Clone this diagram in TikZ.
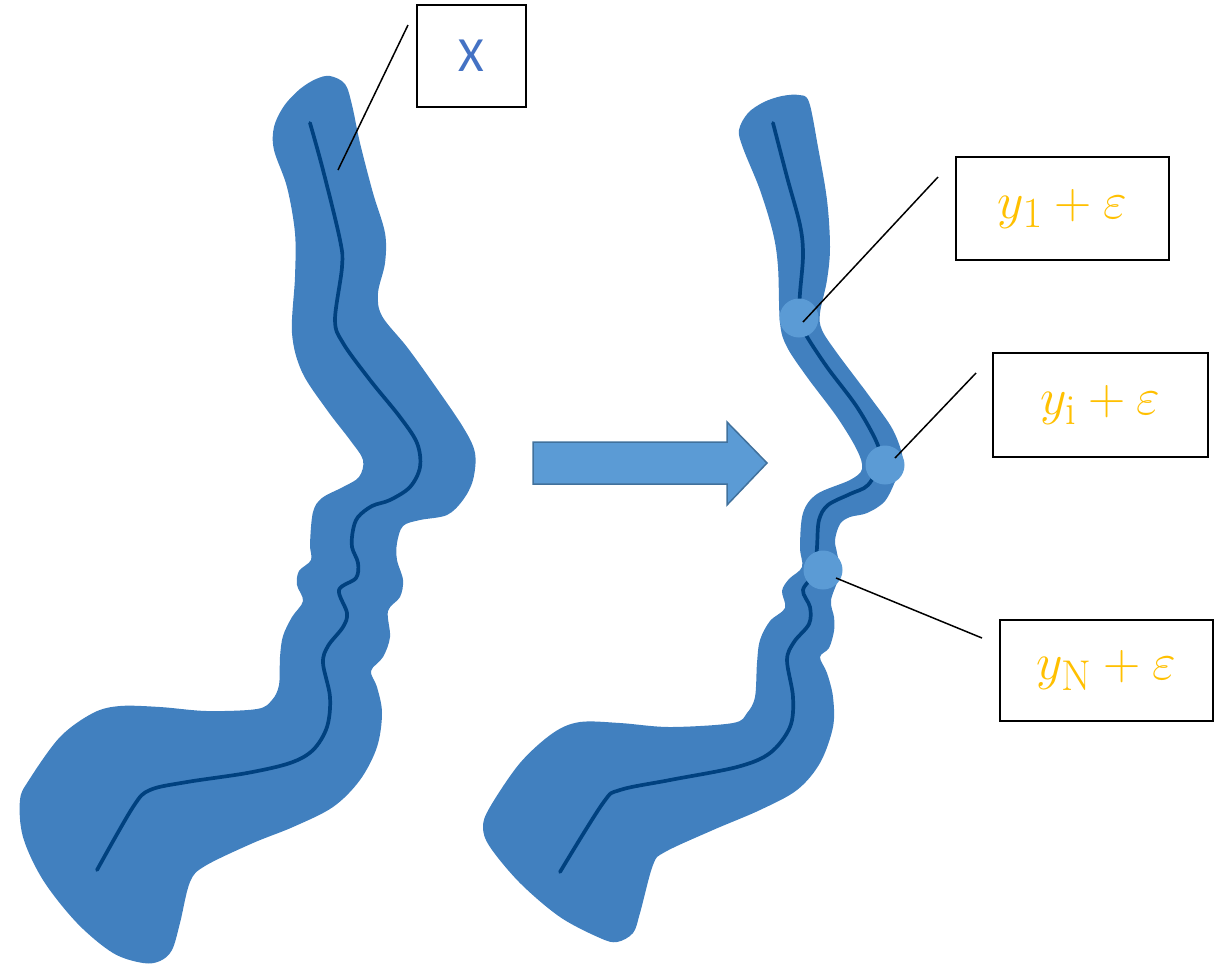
\documentclass[tikz,border=0pt]{standalone}
\usepackage{graphicx}
\usepackage{fontspec}
\newfontfamily\labelfont{Carlito}
\newcommand{\biglabel}[1]{\scalebox{1.18}{$#1$}}
\begin{document}
\definecolor{bandblue}{HTML}{4180BF}
\definecolor{coreblue}{HTML}{00417F}
\definecolor{dotblue}{HTML}{5B9BD5}
\definecolor{arrowedge}{HTML}{41719C}
\definecolor{labelgold}{HTML}{FFC000}
\definecolor{labelblue}{HTML}{4472C4}
\begin{tikzpicture}[x=0.02cm,y=-0.02cm,
  band/.style={fill=bandblue,draw=none},
  core/.style={draw=coreblue,line width=2.1pt,line cap=round,line join=round},
  dot/.style={circle,fill=dotblue,draw=none,inner sep=0pt,minimum size=0.78cm},
  labelbox/.style={draw=black,line width=1.1pt,fill=white,inner sep=0pt},
  callout/.style={draw=black,line width=0.85pt},
  mathlabel/.style={text=labelgold,font=\fontsize{24.88}{30}\selectfont}]
\useasboundingbox (0,0) rectangle (1217,965);

% ---- left tube ----
\path[band] plot[smooth cycle,tension=0.55] coordinates {
 (330,76) (345,84) (352,105) (360,143) (373,193) (385,233) (385,263) (378,293)
 (382,316) (407,347) (433,383) (463,427) (475,453) (473,480) (463,500) (447,515)
 (420,520) (403,526) (397,543) (397,560) (403,580) (400,597) (388,611) (390,637)
 (383,657) (371,671) (377,687) (382,713) (377,747) (360,780) (333,807) (293,827)
 (253,843) (205,866) (190,882) (180,923) (172,950) (160,961) (143,963) (113,953)
 (77,923) (43,880) (23,837) (20,800) (29,780) (60,737) (93,713) (120,706)
 (160,707) (207,711) (257,709) (272,700) (279,685) (280,657) (283,636) (292,617)
 (303,601) (297,585) (299,571) (311,560) (310,544) (313,512) (322,498) (343,487)
 (359,477) (363,460) (350,440) (327,410) (302,372) (292,333) (295,277) (295,233)
 (287,187) (274,150) (274,127) (284,106) (300,89) (316,79)};
\draw[core] plot[smooth,tension=0.55] coordinates {
 (310,123) (323,170) (340,240) (342,267) (335,320) (343,343) (370,380) (400,417)
 (417,443) (420,467) (410,487) (390,500) (372,506) (358,517) (353,530) (352,547)
 (358,563) (356,578) (339,590) (347,613) (343,627) (328,646) (323,663) (330,697)
 (327,727) (313,750) (290,763) (247,773) (187,782) (150,790) (133,807) (97,870)};

% ---- transition arrow ----
\path[fill=dotblue,draw=arrowedge,line width=0.85pt,line join=miter]
 (533,442) -- (727,442) -- (727,422) -- (767,463) -- (727,505) -- (727,484)
 -- (533,484) -- cycle;

% ---- right tube ----
\path[band] plot[smooth cycle,tension=0.55] coordinates {
 (799,95) (809,102) (818,147) (827,200) (830,247) (827,280) (820,313) (822,330)
 (837,353) (870,397) (893,430) (903,460) (897,477) (885,501) (867,513) (850,517)
 (840,524) (835,540) (837,553) (840,573) (831,600) (834,617) (834,631) (829,648)
 (820,657) (827,673) (833,697) (833,727) (820,763) (797,790) (760,810) (713,830)
 (665,852) (653,865) (640,913) (633,933) (617,942) (600,938) (560,917) (520,883)
 (490,847) (483,827) (490,807) (520,763) (553,733) (580,722) (620,723) (670,727)
 (733,723) (747,713) (755,697) (757,663) (760,640) (770,621) (785,608) (782,591)
 (789,579) (802,567) (800,547) (803,513) (817,494) (850,480) (862,469) (857,450)
 (837,417) (807,377) (787,347) (780,323) (778,267) (773,233) (760,190) (743,148)
 (739,130) (748,113) (764,102) (782,96)};
\draw[core] plot[smooth,tension=0.55] coordinates {
 (773,123) (787,177) (800,225) (803,255) (800,293) (799,318) (806,335) (827,367)
 (857,407) (877,443) (880,462) (868,485) (850,494) (828,505) (819,520) (817,547)
 (815,572) (803,590) (810,607) (809,624) (794,642) (787,660) (793,697) (790,727)
 (770,753) (737,767) (670,780) (620,790) (603,803) (560,872)};

% ---- sample points ----
\node[dot] (p1) at (799,318) {};
\node[dot] (pi) at (885,465) {};
\node[dot] (pN) at (823,570) {};

% ---- label boxes ----
\node[labelbox,minimum width=2.18cm,minimum height=2.04cm,text=labelblue,
      font=\labelfont\fontsize{28}{30}\selectfont] (bx) at (471.5,56) {X};
\node[labelbox,mathlabel,minimum width=4.26cm,minimum height=2.06cm]
      (b1) at (1062.5,208.5) {\biglabel{y_1+\varepsilon}};
\node[labelbox,mathlabel,minimum width=4.30cm,minimum height=2.08cm]
      (bi) at (1100.5,405) {\biglabel{y_{\mathrm{i}}+\varepsilon}};
\node[labelbox,mathlabel,minimum width=4.26cm,minimum height=2.02cm]
      (bN) at (1106.5,670.5) {\biglabel{y_{\mathrm{N}}+\varepsilon}};

% ---- callout leaders ----
\coordinate (cx0) at (408,25);   \coordinate (cx1) at (338,170);
\coordinate (c10) at (938,177);  \coordinate (c11) at (803,322);
\coordinate (ci0) at (976,373);  \coordinate (ci1) at (895,458);
\coordinate (cN0) at (982,638);  \coordinate (cN1) at (836,578);
\draw[callout] (cx0) -- (cx1);
\draw[callout] (c10) -- (c11);
\draw[callout] (ci0) -- (ci1);
\draw[callout] (cN0) -- (cN1);
\end{tikzpicture}
\end{document}
